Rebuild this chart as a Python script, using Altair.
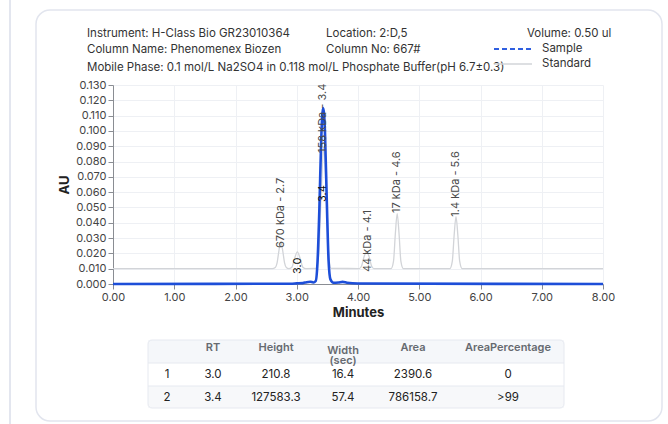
import altair as alt
import pandas as pd

# ---- chromatogram traces (minutes, AU) ----
std_time = [0.00, 2.60, 2.65, 2.68, 2.71, 2.74, 2.77, 2.80, 2.83, 2.87,
            2.92, 2.96, 3.01, 3.06, 3.10, 3.15, 3.32, 3.36, 3.40, 3.44,
            3.48, 3.52, 3.56, 4.02, 4.06, 4.10, 4.14, 4.18, 4.22, 4.26,
            4.54, 4.58, 4.61, 4.64, 4.67, 4.70, 4.74, 5.50, 5.54, 5.57,
            5.60, 5.63, 5.66, 5.70, 8.00]
std_au = [0.0100, 0.0100, 0.0108, 0.0140, 0.0220, 0.0275, 0.0220, 0.0140, 0.0108, 0.0101,
          0.0110, 0.0160, 0.0210, 0.0160, 0.0110, 0.0101, 0.0102, 0.0200, 0.0600, 0.0900,
          0.0600, 0.0200, 0.0102, 0.0101, 0.0120, 0.0180, 0.0210, 0.0180, 0.0120, 0.0101,
          0.0101, 0.0150, 0.0330, 0.0460, 0.0330, 0.0150, 0.0101, 0.0101, 0.0150, 0.0320,
          0.0440, 0.0320, 0.0150, 0.0101, 0.0100]

smp_time = [0.00, 2.90, 3.00, 3.10, 3.16, 3.22, 3.27, 3.31, 3.34, 3.37,
            3.40, 3.43, 3.46, 3.49, 3.52, 3.55, 3.60, 3.68, 3.75, 3.82,
            4.00, 8.00]
smp_au = [0.0000, 0.0002, 0.0004, 0.0006, 0.0012, 0.0015, 0.0010, 0.0020, 0.0150, 0.0500,
          0.0950, 0.1150, 0.1000, 0.0550, 0.0150, 0.0030, 0.0008, 0.0010, 0.0014, 0.0008,
          0.0003, 0.0000]

# ---- peak annotations ----
lbl_time = [2.74, 3.02, 3.43, 3.43, 4.16, 4.64, 5.60]
lbl_au = [0.0235, 0.0065, 0.0856, 0.0536, 0.0078, 0.0464, 0.0440]
lbl_text = ["670 kDa - 2.7", "3.0", "158 kDa - 3.4", "3.4",
            "44 kDa - 4.1", "17 kDa - 4.6", "1.4 kDa - 5.6"]
lbl_kind = ["Standard", "Sample", "Standard", "Sample",
            "Standard", "Standard", "Standard"]

# ---- run information ----
info_col1 = ["Instrument: H-Class Bio GR23010364", "Column Name: Phenomenex Biozen"]
info_col2 = ["Location: 2:D,5", "Column No: 667#"]
info_phase = "Mobile Phase: 0.1 mol/L Na2SO4 in 0.118 mol/L Phosphate Buffer(pH 6.7\u00b10.3)"
info_volume = "Volume: 0.50 ul"
legend_names = ["Sample", "Standard"]

# ---- peak table ----
tbl_header = ["", "RT", "Height", "Width\n(sec)", "Area", "AreaPercentage"]
tbl_no = ["1", "2"]
tbl_rt = ["3.0", "3.4"]
tbl_height = ["210.8", "127583.3"]
tbl_width = ["16.4", "57.4"]
tbl_area = ["2390.6", "786158.7"]
tbl_pct = ["0", ">99"]

FONT = "Inter"
BLUE = "#1d4ed8"
GREY = "#d2d4d8"

# plot-area origin on the page; decorations are placed relative to it
X0, Y0 = 113, 85
W, H = 490, 199


def px(x):
    return x - X0


def py(y):
    return y - Y0


def one(text):
    return pd.DataFrame({"t": [text]})


std_df = pd.DataFrame({"time": std_time, "au": std_au})
smp_df = pd.DataFrame({"time": smp_time, "au": smp_au})
lbl_df = pd.DataFrame({"time": lbl_time, "au": lbl_au, "text": lbl_text, "kind": lbl_kind})

x_scale = alt.Scale(domain=[0, 8], nice=False)
y_scale = alt.Scale(domain=[0, 0.13], nice=False)

x_enc = alt.X("time:Q", scale=x_scale,
              axis=alt.Axis(title="Minutes", values=list(range(9)), format=".2f",
                            labelFlush=False))
y_enc = alt.Y("au:Q", scale=y_scale,
              axis=alt.Axis(title="AU", values=[i / 100 for i in range(14)], format=".3f",
                            labelFlush=False))

layers = []

# outer container edge and card frame
layers.append(
    alt.Chart(one("")).mark_rule(color="#e3e6ef", strokeWidth=2).encode(
        x=alt.value(px(10)), y=alt.value(py(-5)), y2=alt.value(py(430)))
)
layers.append(
    alt.Chart(one("")).mark_rect(fill=None, stroke="#e2e5ee", strokeWidth=1.5,
                                 cornerRadius=14).encode(
        x=alt.value(px(36)), x2=alt.value(px(662)),
        y=alt.value(py(10)), y2=alt.value(py(421)))
)

# traces
layers.append(
    alt.Chart(std_df).mark_line(color=GREY, strokeWidth=1.3, interpolate="monotone")
    .encode(x=x_enc, y=y_enc)
)
layers.append(
    alt.Chart(smp_df).mark_line(color=BLUE, strokeWidth=2.6, interpolate="monotone")
    .encode(x=x_enc, y=y_enc)
)

# rotated peak labels
layers.append(
    alt.Chart(lbl_df).mark_text(angle=270, align="left", baseline="middle",
                                font=FONT, fontSize=11)
    .encode(x=x_enc, y=y_enc, text="text:N",
            color=alt.Color("kind:N", legend=None,
                            scale=alt.Scale(domain=["Standard", "Sample"],
                                            range=["#4a4a4a", "#111111"])))
)

# run information header
info_style = dict(font=FONT, fontSize=11.5, color="#333333", align="left", baseline="middle")
for i, t in enumerate(info_col1):
    layers.append(alt.Chart(one(t)).mark_text(**info_style).encode(
        text="t:N", x=alt.value(px(87)), y=alt.value(py(34 + 16 * i))))
for i, t in enumerate(info_col2):
    layers.append(alt.Chart(one(t)).mark_text(**info_style).encode(
        text="t:N", x=alt.value(px(326)), y=alt.value(py(34 + 16 * i))))
layers.append(alt.Chart(one(info_phase)).mark_text(**info_style).encode(
    text="t:N", x=alt.value(px(87)), y=alt.value(py(68))))
layers.append(alt.Chart(one(info_volume)).mark_text(**info_style).encode(
    text="t:N", x=alt.value(px(527)), y=alt.value(py(34))))

# legend
layers.append(alt.Chart(one("")).mark_rule(color="#2f5fe0", strokeWidth=2, strokeDash=[5, 3]).encode(
    x=alt.value(px(494)), x2=alt.value(px(532)), y=alt.value(py(49))))
layers.append(alt.Chart(one("")).mark_rule(color=GREY, strokeWidth=1.3).encode(
    x=alt.value(px(494)), x2=alt.value(px(532)), y=alt.value(py(64))))
for i, t in enumerate(legend_names):
    layers.append(alt.Chart(one(t)).mark_text(**info_style).encode(
        text="t:N", x=alt.value(px(542)), y=alt.value(py(49 + 15 * i))))

# peak table frame and row bands
layers.append(alt.Chart(one("")).mark_rect(fill="#f5f7fa").encode(
    x=alt.value(px(148)), x2=alt.value(px(564)), y=alt.value(py(340)), y2=alt.value(py(363))))
layers.append(alt.Chart(one("")).mark_rect(fill="#f7f8fa").encode(
    x=alt.value(px(148)), x2=alt.value(px(564)), y=alt.value(py(386)), y2=alt.value(py(408))))
for yy in (363, 386):
    layers.append(alt.Chart(one("")).mark_rule(color="#e6e9f0", strokeWidth=1).encode(
        x=alt.value(px(148)), x2=alt.value(px(564)), y=alt.value(py(yy))))
layers.append(alt.Chart(one("")).mark_rect(fill=None, stroke="#e6e9f0", strokeWidth=1,
                                           cornerRadius=4).encode(
    x=alt.value(px(148)), x2=alt.value(px(564)), y=alt.value(py(340)), y2=alt.value(py(408))))

col_x = [167, 213, 276, 343, 413, 508]
for cx, h in zip(col_x, tbl_header):
    if not h:
        continue
    yy = 351 if "\n" in h else 348
    layers.append(alt.Chart(one(h)).mark_text(
        font=FONT, fontSize=11, fontWeight=600, color="#666a70", align="center",
        baseline="middle", lineBreak="\n", lineHeight=10).encode(
        text="t:N", x=alt.value(px(cx)), y=alt.value(py(yy))))

columns = [tbl_no, tbl_rt, tbl_height, tbl_width, tbl_area, tbl_pct]
for cx, col in zip(col_x, columns):
    for r, v in enumerate(col):
        layers.append(alt.Chart(one(v)).mark_text(
            font=FONT, fontSize=11.5, color="#222222", align="center", baseline="middle").encode(
            text="t:N", x=alt.value(px(cx)), y=alt.value(py(375 + 23 * r))))

chart = alt.layer(*layers).properties(
    width=W, height=H,
    autosize=alt.AutoSizeParams(type="none"),
    padding={"left": X0, "top": Y0, "right": 668 - X0 - W, "bottom": 424 - Y0 - H},
    background="white",
).configure_view(stroke=None).configure_axis(
    labelFont=FONT, titleFont=FONT, labelFontSize=11, labelColor="#444444",
    titleFontSize=13, titleFontWeight="bold", titleColor="#222222",
    domainColor="#8a8d93", tickColor="#8a8d93", gridColor="#eef0f4",
)

chart.save("out.html", embed_options={"renderer": "svg", "actions": False})
